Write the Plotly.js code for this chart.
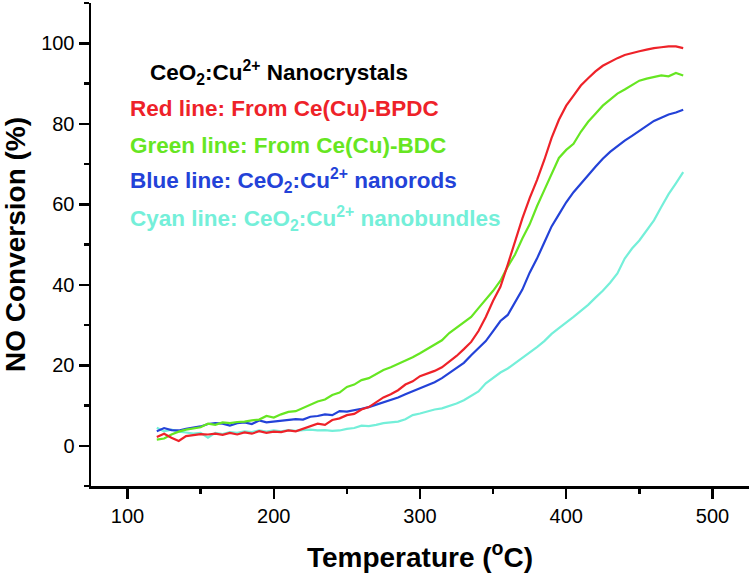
<!DOCTYPE html>
<html>
<head>
<meta charset="utf-8">
<script src="https://cdn.plot.ly/plotly-3.0.1.min.js"></script>
<style>html,body{margin:0;padding:0;background:#fff;}#chart{width:752px;height:578px;}</style>
</head>
<body>
<div id="chart"></div>
<script>
// Temperature (°C), 5 °C steps from 120 to 480
const temperature = [120,125,130,135,140,145,150,155,160,165,170,175,180,185,190,195,200,205,210,215,220,225,230,235,240,245,250,255,260,265,270,275,280,285,290,295,300,305,310,315,320,325,330,335,340,345,350,355,360,365,370,375,380,385,390,395,400,405,410,415,420,425,430,435,440,445,450,455,460,465,470,475,480];

const redBPDC = [2.2,3.0,2.0,1.2,2.4,2.7,2.9,2.8,3.0,2.7,3.2,2.8,3.3,3.0,3.6,3.2,3.5,3.4,3.8,3.6,4.2,4.8,5.5,5.2,6.4,6.8,7.6,7.9,9.0,9.6,10.8,12.0,12.8,13.8,15.2,16.0,17.3,18.0,18.6,19.5,20.8,22.3,24.0,25.8,28.5,32.0,36.0,39.5,45.0,51.0,56.5,61.5,66.0,71.0,76.5,81.0,84.5,87.0,89.5,91.3,93.0,94.4,95.4,96.3,97.1,97.6,98.0,98.4,98.8,99.0,99.2,99.2,98.8];

const greenBDC = [1.5,1.8,2.8,3.5,4.0,4.3,4.6,5.5,5.2,5.8,5.6,5.9,6.0,6.3,6.5,7.4,7.0,7.8,8.4,8.6,9.4,10.2,11.0,11.5,12.6,13.2,14.6,15.2,16.3,16.8,17.9,18.8,19.5,20.3,21.0,22.0,23.0,24.0,25.0,26.2,28.0,29.3,30.6,32.0,34.2,36.3,38.5,41.0,44.5,47.5,51.5,55.0,59.5,63.5,67.5,71.5,73.5,75.0,78.0,80.5,82.5,84.5,86.0,87.5,88.5,89.5,90.7,91.2,91.6,92.0,91.8,92.6,92.0];

const blueNanorods = [3.6,4.4,3.9,3.8,4.2,4.5,4.8,5.4,5.6,5.5,5.0,5.6,5.8,5.4,6.3,5.8,6.0,6.3,6.4,6.6,6.5,7.2,7.4,7.8,7.6,8.6,8.5,8.8,9.2,9.6,10.2,10.8,11.3,12.0,12.8,13.5,14.2,15.0,15.8,16.8,18.0,19.2,20.6,22.5,24.2,26.0,28.5,31.0,32.5,35.5,38.8,43.0,46.5,50.5,54.5,57.5,60.5,63.0,65.2,67.2,69.3,71.3,73.0,74.5,75.8,77.0,78.2,79.5,80.7,81.5,82.3,82.8,83.5];

const cyanNanobundles = [4.5,3.6,4.0,3.5,3.3,3.0,3.2,2.0,3.2,2.9,3.4,3.2,3.6,3.4,3.8,3.5,3.8,3.6,3.9,3.7,3.9,4.0,3.8,3.9,3.7,3.8,4.2,4.4,5.0,4.9,5.2,5.6,5.8,6.0,6.6,7.6,8.0,8.5,9.0,9.3,9.9,10.5,11.3,12.3,13.5,15.5,16.8,18.2,19.2,20.5,22.0,23.2,24.5,26.0,27.8,29.2,30.5,32.0,33.5,35.0,36.8,38.5,40.5,42.8,46.5,49.0,51.0,53.5,56.0,59.3,62.5,65.2,68.0];

const xTickVals = [100,200,300,400,500];
const yTickVals = [0,20,40,60,80,100];

const colors = {red:'#ee2229', green:'#66e622', blue:'#2342d8', cyan:'#74efd9'};

const mk = (y, c) => ({x: temperature, y: y, type:'scatter', mode:'lines', line:{color:c, width:2.2}, hoverinfo:'skip'});

const data = [
  mk(cyanNanobundles, colors.cyan),
  mk(blueNanorods, colors.blue),
  mk(greenBDC, colors.green),
  mk(redBPDC, colors.red)
];

const font = 'Liberation Sans, Arial, Helvetica, sans-serif';
const annFont = (c) => ({family: font, size: 22.5, color: c});

const layout = {
  width: 752, height: 578,
  margin: {l: 91, r: 3, t: 3, b: 92},
  paper_bgcolor: '#fff', plot_bgcolor: '#fff',
  showlegend: false,
  xaxis: {
    range: [75, 525], tickvals: xTickVals, ticktext: xTickVals.map(String),
    showline: true, linecolor: '#000', linewidth: 2.5, mirror: false,
    showgrid: false, zeroline: false,
    ticks: 'outside', ticklen: 10, tickwidth: 2.5, tickcolor: '#000',
    minor: {dtick: 50, tick0: 50, ticks: 'outside', ticklen: 5, tickwidth: 2.5, tickcolor: '#000', showgrid: false},
    tickfont: {family: font, size: 20, color: '#000'},
    title: {text: '<b>Temperature (<sup>o</sup>C)</b>', font: {family: font, size: 28, color: '#000'}, standoff: 22}
  },
  yaxis: {
    range: [-10, 110], tickvals: yTickVals, ticktext: yTickVals.map(String),
    showline: true, linecolor: '#000', linewidth: 2.5, mirror: false,
    showgrid: false, zeroline: false,
    ticks: 'outside', ticklen: 10, tickwidth: 2.5, tickcolor: '#000',
    minor: {dtick: 10, tick0: 10, ticks: 'outside', ticklen: 5, tickwidth: 2.5, tickcolor: '#000', showgrid: false},
    tickfont: {family: font, size: 20, color: '#000'},
    title: {text: '<b>NO Conversion (%)</b>', font: {family: font, size: 28, color: '#000'}, standoff: 14}
  },
  annotations: [
    {x: 113.9, y: 92.7, xref: 'x', yref: 'y', xanchor: 'left', yanchor: 'middle', showarrow: false,
     text: '<b>CeO<sub>2</sub>:Cu<sup>2+</sup> Nanocrystals</b>', font: annFont('#000')},
    {x: 100.2, y: 83.8, xref: 'x', yref: 'y', xanchor: 'left', yanchor: 'middle', showarrow: false,
     text: '<b>Red line: From Ce(Cu)-BPDC</b>', font: annFont(colors.red)},
    {x: 100.2, y: 74.6, xref: 'x', yref: 'y', xanchor: 'left', yanchor: 'middle', showarrow: false,
     text: '<b>Green line: From Ce(Cu)-BDC</b>', font: annFont(colors.green)},
    {x: 100.2, y: 65.9, xref: 'x', yref: 'y', xanchor: 'left', yanchor: 'middle', showarrow: false,
     text: '<b>Blue line: CeO<sub>2</sub>:Cu<sup>2+</sup> nanorods</b>', font: annFont(colors.blue)},
    {x: 100.2, y: 56.5, xref: 'x', yref: 'y', xanchor: 'left', yanchor: 'middle', showarrow: false,
     text: '<b>Cyan line: CeO<sub>2</sub>:Cu<sup>2+</sup> nanobundles</b>', font: annFont(colors.cyan)}
  ]
};

Plotly.newPlot('chart', data, layout, {staticPlot: true, displayModeBar: false});
</script>
</body>
</html>
